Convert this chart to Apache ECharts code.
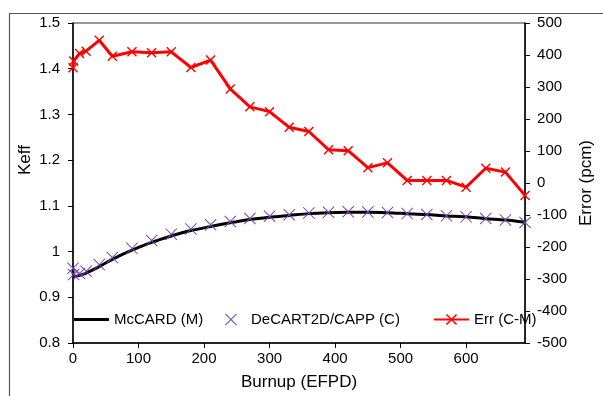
<!DOCTYPE html>
<html>
<head>
<meta charset="utf-8">
<script src="https://cdn.jsdelivr.net/npm/echarts@6/dist/echarts.min.js"></script>
<style>
html,body{margin:0;padding:0;background:#fff;}
#chart{width:603px;height:396px;}
</style>
</head>
<body>
<div id="chart"></div>
<script>
// Burnup steps (EFPD)
const burnup = [0, 1, 10, 20, 40, 60, 90, 120, 150, 180, 210, 240, 270, 300, 330, 360, 390, 420, 450, 480, 510, 540, 570, 600, 630, 660, 690];
// McCARD (M) keff
const mccard = [0.960, 0.946, 0.948, 0.953, 0.967, 0.983, 1.003, 1.020, 1.034, 1.046, 1.055, 1.063, 1.070, 1.075, 1.079, 1.083, 1.085, 1.086, 1.086, 1.085, 1.083, 1.081, 1.078, 1.076, 1.072, 1.069, 1.064];
// DeCART2D/CAPP (C) keff
const decart = [0.9636, 0.9498, 0.9521, 0.9571, 0.9715, 0.9870, 1.0071, 1.0241, 1.0381, 1.0496, 1.0588, 1.0659, 1.0724, 1.0772, 1.0807, 1.0846, 1.0860, 1.0870, 1.0865, 1.0856, 1.0831, 1.0811, 1.0781, 1.0759, 1.0725, 1.0693, 1.0636];
// Err (C-M) in pcm
const errPcm = [360, 381, 405, 412, 446, 396, 410, 407, 410, 361, 384, 294, 238, 223, 174, 161, 104, 101, 48, 63, 8, 8, 8, -13, 46, 34, -39];
// Axis ticks
const xTicks = [0, 100, 200, 300, 400, 500, 600];

const FONT = '"Liberation Sans", Arial, sans-serif';
const X_RED = 'path://M0,1L1,0L5,4L9,0L10,1L6,5L10,9L9,10L5,6L1,10L0,9L4,5Z';
const X_PURPLE = 'path://M0,0.7L0.7,0L6,5.3L11.3,0L12,0.7L6.7,6L12,11.3L11.3,12L6,6.7L0.7,12L0,11.3L5.3,6Z';

const chart = echarts.init(document.getElementById('chart'), null, {renderer: 'canvas'});

const zip = (xs, ys) => xs.map((x, i) => [x, ys[i]]);

const legendText = {fontFamily: FONT, fontSize: 15, color: '#000'};

chart.setOption({
  animation: false,
  backgroundColor: '#fff',
  grid: {left: 73, top: 23, right: 68, bottom: 51, show: true, borderColor: '#333', borderWidth: 1},
  graphic: [
    {type: 'rect', left: 7, top: 11, shape: {width: 700, height: 500}, style: {fill: 'none', stroke: '#555', lineWidth: 1.2}, silent: true, z: -10},
    {type: 'text', x: 25, y: 160, rotation: Math.PI / 2, style: {text: 'Keff', font: '17px ' + FONT, fill: '#000', align: 'center', verticalAlign: 'middle'}}
  ],
  legend: [
    {data: [{name: 'McCARD (M)', icon: 'rect'}], left: 74, top: 312, itemWidth: 35, itemHeight: 3, textStyle: legendText, padding: [0, 0, 0, 0]},
    {data: ['DeCART2D/CAPP (C)'], left: 225, top: 312, itemWidth: 30, itemHeight: 12, textStyle: legendText, padding: 0},
    {data: ['Err (C-M)'], left: 433, top: 312, itemWidth: 35, itemHeight: 14, textStyle: legendText, padding: 0}
  ],
  xAxis: {
    type: 'value', min: 0, max: 690, interval: 100,
    name: 'Burnup (EFPD)', nameLocation: 'middle', nameGap: 31,
    nameTextStyle: {fontFamily: FONT, fontSize: 17, color: '#000'},
    axisLine: {show: true, onZero: false, lineStyle: {color: '#000', width: 1.5}},
    axisTick: {show: true, length: 5, lineStyle: {color: '#000'}, customValues: xTicks},
    axisLabel: {fontFamily: FONT, fontSize: 15, color: '#000', margin: 8, customValues: xTicks},
    splitLine: {show: false}
  },
  yAxis: [
    {
      type: 'value', min: 0.8, max: 1.5, interval: 0.1, position: 'left',
      axisLine: {show: true, lineStyle: {color: '#000', width: 1.5}},
      axisTick: {show: true, length: 5, lineStyle: {color: '#000'}},
      axisLabel: {fontFamily: FONT, fontSize: 15, color: '#000', margin: 13, formatter: v => String(Math.round(v * 10) / 10)},
      splitLine: {show: false}
    },
    {
      type: 'value', min: -500, max: 500, interval: 100, position: 'right',
      name: 'Error (pcm)', nameLocation: 'middle', nameGap: 50,
      nameTextStyle: {fontFamily: FONT, fontSize: 17, color: '#000'},
      axisLine: {show: true, lineStyle: {color: '#000', width: 1.5}},
      axisTick: {show: true, length: 5, lineStyle: {color: '#000'}},
      axisLabel: {fontFamily: FONT, fontSize: 15, color: '#000', margin: 12},
      splitLine: {show: false}
    }
  ],
  series: [
    {
      name: 'McCARD (M)', type: 'line', yAxisIndex: 0,
      data: zip(burnup, mccard), symbol: 'none', smooth: 0.3,
      lineStyle: {color: '#000', width: 3}, itemStyle: {color: '#000'}, z: 2
    },
    {
      name: 'DeCART2D/CAPP (C)', type: 'scatter', yAxisIndex: 0,
      data: zip(burnup, decart), symbol: X_PURPLE, symbolSize: 12,
      itemStyle: {color: '#7B44B8', opacity: 1}, z: 3
    },
    {
      name: 'Err (C-M)', type: 'line', yAxisIndex: 1,
      data: zip(burnup, errPcm), symbol: X_RED, symbolSize: 10, showAllSymbol: true,
      lineStyle: {color: '#FF0000', width: 3}, itemStyle: {color: '#FF0000'}, z: 4
    }
  ]
});
</script>
</body>
</html>
